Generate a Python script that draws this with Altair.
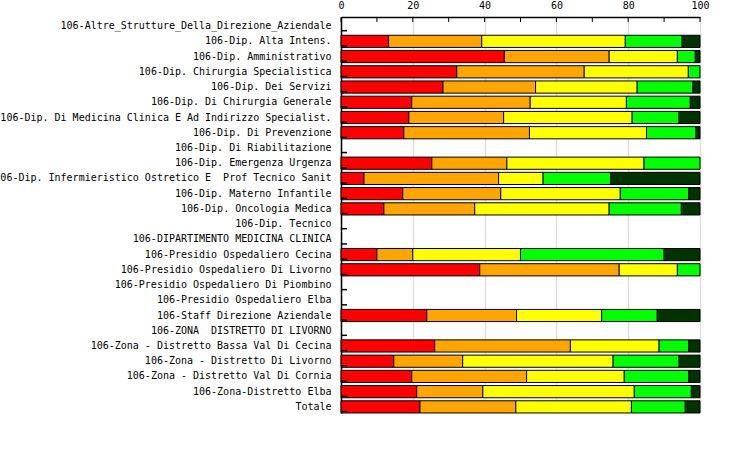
import altair as alt
import pandas as pd

categories = [
    "106-Altre_Strutture_Della_Direzione_Aziendale",
    "106-Dip. Alta Intens.",
    "106-Dip. Amministrativo",
    "106-Dip. Chirurgia Specialistica",
    "106-Dip. Dei Servizi",
    "106-Dip. Di Chirurgia Generale",
    "106-Dip. Di Medicina Clinica E Ad Indirizzo Specialist.",
    "106-Dip. Di Prevenzione",
    "106-Dip. Di Riabilitazione",
    "106-Dip. Emergenza Urgenza",
    "106-Dip. Infermieristico Ostretico E \u00a0Prof Tecnico Sanit",
    "106-Dip. Materno Infantile",
    "106-Dip. Oncologia Medica",
    "106-Dip. Tecnico",
    "106-DIPARTIMENTO MEDICINA CLINICA",
    "106-Presidio Ospedaliero Cecina",
    "106-Presidio Ospedaliero Di Livorno",
    "106-Presidio Ospedaliero Di Piombino",
    "106-Presidio Ospedaliero Elba",
    "106-Staff Direzione Aziendale",
    "106-ZONA \u00a0DISTRETTO DI LIVORNO",
    "106-Zona - Distretto Bassa Val Di Cecina",
    "106-Zona - Distretto Di Livorno",
    "106-Zona - Distretto Val Di Cornia",
    "106-Zona-Distretto Elba",
    "Totale",
]

red =    [0, 13.25, 45.5, 32.25, 28.4, 19.7, 18.9, 17.5, 0, 25.3, 6.4, 17.2, 11.95, 0, 0, 10.0, 38.65, 0, 0, 23.9, 0, 26.1, 14.7, 19.7, 21.1, 22.0]
orange = [0, 25.95, 29.2, 35.5, 25.8, 33.0, 26.4, 35.0, 0, 20.9, 37.5, 27.3, 25.3, 0, 0, 10.0, 38.85, 0, 0, 25.0, 0, 37.8, 19.2, 32.0, 18.4, 26.7]
yellow = [0, 40.0, 19.0, 29.0, 28.3, 26.8, 35.8, 32.6, 0, 38.2, 12.4, 33.3, 37.45, 0, 0, 30.0, 16.2, 0, 0, 23.7, 0, 24.7, 41.9, 27.2, 42.2, 32.2]
green =  [0, 15.8, 5.0, 3.25, 15.55, 17.8, 13.1, 13.8, 0, 15.6, 18.8, 19.1, 20.1, 0, 0, 40.0, 6.3, 0, 0, 15.5, 0, 8.2, 18.4, 18.0, 15.9, 15.0]
dark =   [0, 5.0, 1.3, 0, 1.95, 2.7, 5.8, 1.1, 0, 0, 24.9, 3.1, 5.2, 0, 0, 10.0, 0, 0, 0, 11.9, 0, 3.2, 5.8, 3.1, 2.4, 4.1]

levels = ["1", "2", "3", "4", "5"]
colors = ["#ff0000", "#ffa500", "#ffff00", "#00ff00", "#003300"]
series = [red, orange, yellow, green, dark]
x_ticks = [0, 10, 20, 30, 40, 50, 60, 70, 80, 90, 100]

rows = []
for i, c in enumerate(categories):
    for k, (lv, vals) in enumerate(zip(levels, series)):
        if vals[i] > 0:
            rows.append({"cat": c, "level": lv, "value": vals[i], "ord": k})
df = pd.DataFrame(rows)

font = "DejaVu Sans Mono"

yscale = alt.Scale(domain=categories, paddingInner=0.2, paddingOuter=0.1)
xscale = alt.Scale(domain=[0, 100], nice=False)

bars = alt.Chart(df).mark_bar(stroke="black", strokeWidth=1).encode(
    y=alt.Y("cat:N", scale=yscale, sort=categories, title=None,
            axis=alt.Axis(ticks=False, labelPadding=10, labelFont=font, labelFontSize=10,
                          labelColor="black", domainColor="black", labelLimit=0,
                          labelOffset=1.5)),
    x=alt.X("value:Q", stack="zero", scale=xscale, title=None,
            axis=alt.Axis(orient="top", values=[0, 20, 40, 60, 80, 100], ticks=False,
                          labelPadding=7, labelFont=font, labelFontSize=10, labelColor="black",
                          domainColor="black", grid=True, gridColor="#dddddd", gridWidth=1.5,
                          labelFlush=False)),
    color=alt.Color("level:N", scale=alt.Scale(domain=levels, range=colors), legend=None),
    order=alt.Order("ord:Q"),
    yOffset=alt.value(1.5),
)

ytick_df = pd.DataFrame({"cat": categories})
yticks = alt.Chart(ytick_df).mark_rule(color="black", strokeWidth=1.5).encode(
    y=alt.Y("cat:N", scale=yscale, sort=categories, bandPosition=1),
    x=alt.value(0), x2=alt.value(6),
)

xtick_df = pd.DataFrame({"v": x_ticks})
xticks = alt.Chart(xtick_df).mark_rule(color="black", strokeWidth=1).encode(
    x=alt.X("v:Q", scale=xscale),
    y=alt.value(0), y2=alt.value(5),
)

chart = alt.layer(bars, yticks, xticks).properties(
    width=359, height=396,
    autosize=alt.AutoSizeParams(type="none"),
    padding={"left": 341, "top": 17, "right": 50, "bottom": 47},
).configure_view(stroke=None).configure_axis(domainWidth=1.5)

chart.save("out.html", embed_options={"renderer": "svg", "actions": False})
